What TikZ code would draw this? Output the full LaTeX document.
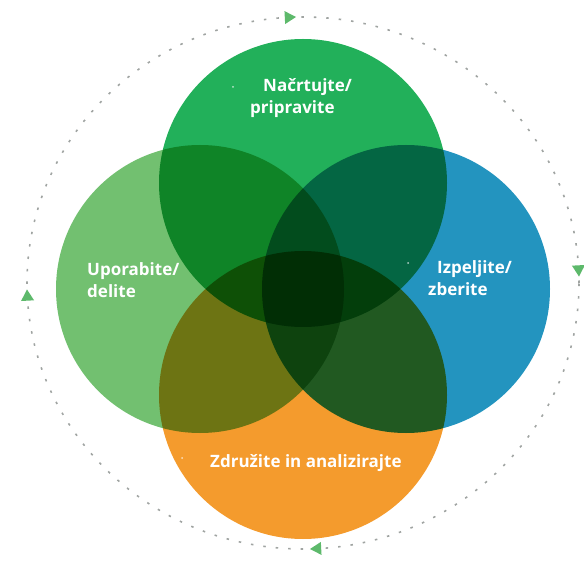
\documentclass[tikz,border=0pt]{standalone}
\usepackage{fontspec}
\setmainfont{Open Sans}
\usetikzlibrary{shapes.geometric}

\definecolor{plangreen}{RGB}{34,176,90}
\definecolor{usegreen}{RGB}{114,192,112}
\definecolor{deriveblue}{RGB}{35,148,191}
\definecolor{mergeorange}{RGB}{244,155,45}
\definecolor{tipgreen}{RGB}{93,185,107}
\definecolor{ringgray}{RGB}{160,164,162}

\begin{document}
\begin{tikzpicture}[x=1pt,y=1pt]

\def\rad{144}
\def\dx{103}
\def\dy{106}

\tikzset{phase/.style = {text=white, font=\bfseries\fontsize{17}{22}\selectfont, align=left, anchor=west, inner sep=0pt}}
\tikzset{tip/.style = {regular polygon, regular polygon sides=3, fill=tipgreen, minimum size=15pt, inner sep=0pt}}
\tikzset{dot/.style = {circle, fill=white, opacity=0.7, minimum size=2pt, inner sep=0pt}}
\tikzset{disc/.style = {blend mode=multiply}}

\useasboundingbox (0,0) rectangle (584,563);

\coordinate (C) at (303,274);
\coordinate (R) at (303,280);

% ring
\draw[ringgray, line width=1.6pt, dash pattern=on 2.5pt off 10pt] (R) ellipse [x radius=276, y radius=266];

\foreach \ang in {93,3,-87,183}
  \path (R) node[tip, rotate=\ang-180] at +(\ang:276 and 266) {};

% circles
\path (C) ++(0,\dy) coordinate (Cplan);
\path (C) ++(-\dx,0) coordinate (Cuse);
\path (C) ++(\dx,0) coordinate (Cderive);
\path (C) ++(0,-\dy) coordinate (Cmerge);

\fill[disc, plangreen] (Cplan) circle (\rad);
\fill[disc, usegreen] (Cuse) circle (\rad);
\fill[disc, deriveblue] (Cderive) circle (\rad);
\fill[disc, mergeorange] (Cmerge) circle (\rad);

% labels
\node[phase] (plan) at (250,465) {\hspace*{13pt}Načrtujte/\\pripravite};
\node[phase] (use) at (87,283) {Uporabite/\\delite};
\node[phase] (derive) at (428,285) {\hspace*{9pt}Izpeljite/\\zberite};
\node[phase] (merge) at (210,100) {Združite in analizirajte};

\node[dot] (plandot) at (233,476) {};
\node[dot] (derivedot) at (408,300) {};
\node[dot] (mergedot) at (182,105) {};

\end{tikzpicture}
\end{document}
